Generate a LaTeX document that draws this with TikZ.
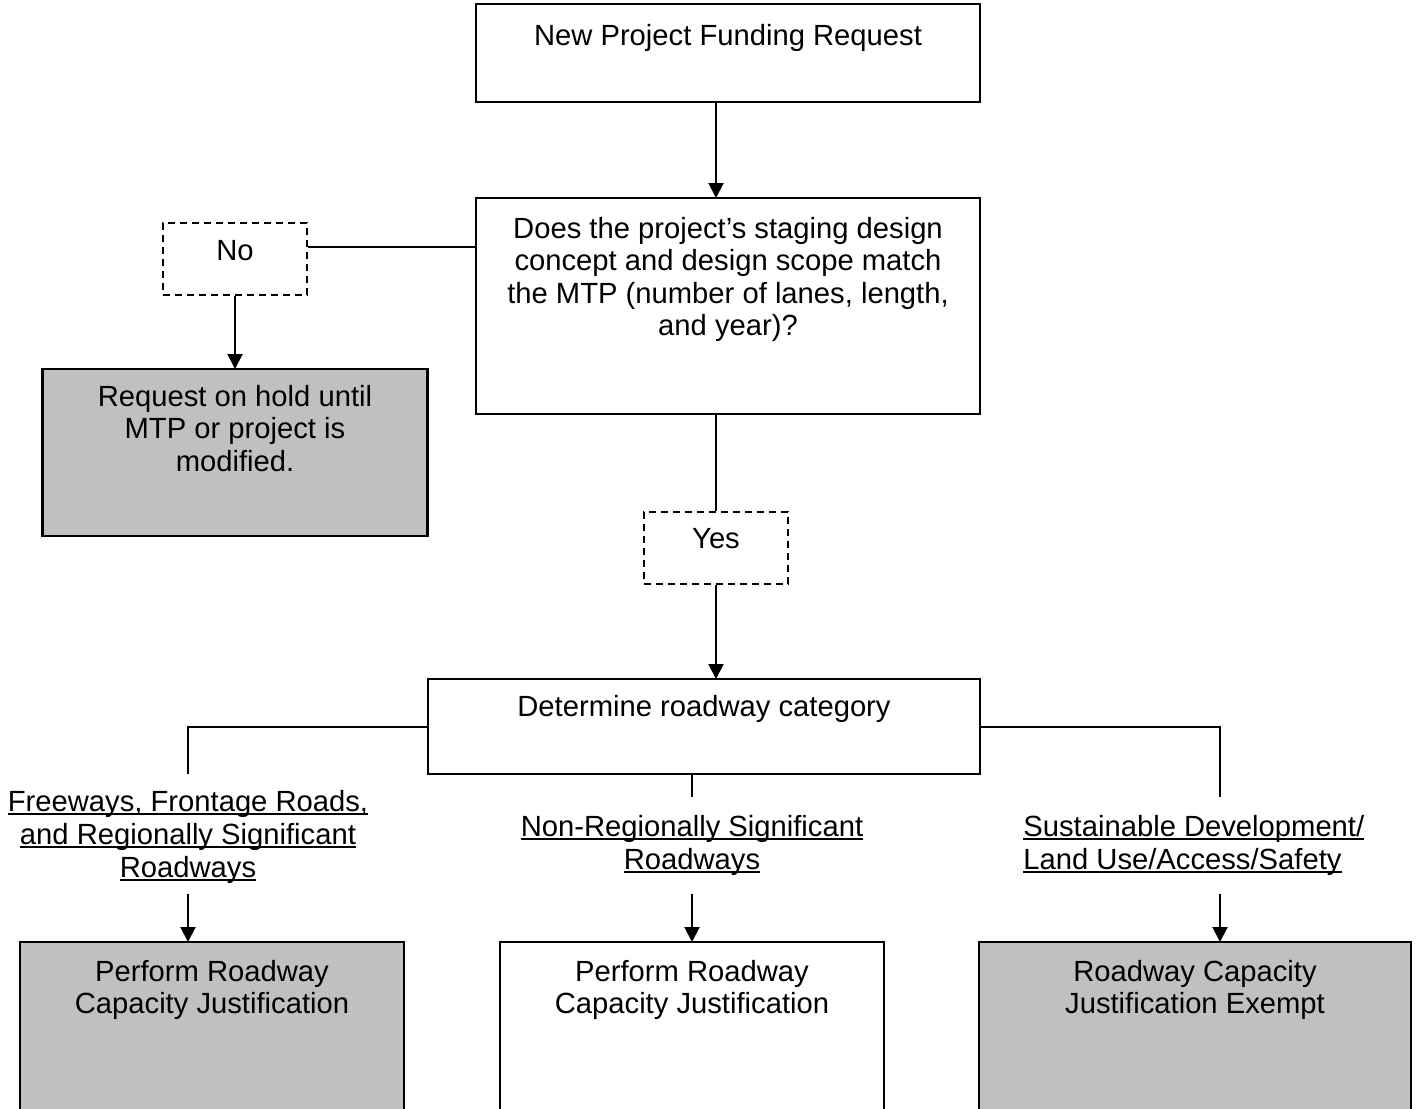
\documentclass[tikz,border=0pt]{standalone}
\usepackage{fontspec}
\setmainfont{Liberation Sans}
\usepackage{tikz}
\usetikzlibrary{arrows.meta, positioning}

\definecolor{holdgray}{RGB}{192,192,192}
\newcommand{\flowfont}{\fontsize{14.6pt}{16.2pt}\selectfont}
\newcommand{\catfont}{\fontsize{14.6pt}{16.6pt}\selectfont}
\newsavebox\ulsave
\newcommand{\ulroad}[1]{\sbox\ulsave{#1}\rlap{\rule[-1.5pt]{\wd\ulsave}{1pt}}\usebox\ulsave}

\begin{document}
\begin{tikzpicture}[
  box/.style={draw, line width=1.1pt, inner sep=0pt, outer sep=0pt},
  choice/.style={draw, dash pattern=on 3.5pt off 2.5pt, line width=1pt,
                 minimum width=72pt, minimum height=36pt, inner sep=0pt},
  intext/.style={anchor=north, inner sep=0pt, align=center, yshift=-#1, font=\flowfont},
  intext/.default=10pt,
  catlabel/.style={inner sep=0pt, align=center, font=\catfont},
  link/.style={line width=1pt},
  arrow/.style={line width=1pt, -{Triangle[length=7.5pt,width=7.5pt]}}
]
  \useasboundingbox (0,0) rectangle (709pt,-554pt);
  \clip (0,0) rectangle (709pt,-554pt);

  % request and MTP check
  \node[box, minimum width=252pt, minimum height=49pt,
        label={[intext=10pt]north:{New Project Funding Request}}] (req) at (364pt,-26.5pt) {};
  \node[box, minimum width=252pt, minimum height=108pt, below=48pt of req,
        label={[intext=9.5pt]north:{Does the project’s staging design\\concept and design scope match\\the MTP (number of lanes, length,\\and year)?}}] (mtp) {};

  % no branch
  \node[choice, below left=12pt and 84pt of mtp.north west,
        label={[intext=9pt]north:No}] (no) {};
  \node[box, fill=holdgray, minimum width=192.5pt, minimum height=83.5pt, below=36.5pt of no,
        label={[intext=8pt]north:{Request on hold until\\MTP or project is\\modified.}}] (hold) {};

  % yes branch
  \node[choice, below=48.5pt of mtp, xshift=-6pt,
        label={[intext=8.5pt]north:Yes}] (yes) {};
  \node[box, minimum width=276pt, minimum height=47.5pt, below=132.5pt of mtp.south east,
        anchor=north east, label={[intext=8pt]north:{Determine roadway category}}] (cat) {};

  % outcomes
  \node[box, minimum width=192pt, minimum height=90pt, below=84pt of cat, xshift=-6pt,
        label={[intext=9pt]north:{Perform Roadway\\Capacity Justification}}] (mbox) {};
  \node[box, fill=holdgray, minimum width=192pt, minimum height=90pt, left=48pt of mbox,
        label={[intext=9pt]north:{Perform Roadway\\Capacity Justification}}] (lbox) {};
  \node[box, fill=holdgray, minimum width=216pt, minimum height=90pt, right=47.5pt of mbox,
        label={[intext=9pt]north:{Roadway Capacity\\Justification Exempt}}] (rbox) {};

  % category labels
  \node[catlabel, above=76pt of lbox.north, anchor=north, xshift=-12pt] (fwy)
        {\ulroad{Freeways, Frontage Roads,}\\\ulroad{and Regionally Significant}\\\ulroad{Roadways}};
  \node[catlabel, above=63.5pt of mbox.north, anchor=north] (nrs)
        {\ulroad{Non-Regionally Significant}\\\ulroad{Roadways}};
  \node[catlabel, align=left, above right=63.5pt and 22pt of rbox.north west, anchor=north west] (sdl)
        {\ulroad{Sustainable Development/}\\\ulroad{Land Use/Access/Safety}};

  % arrows
  \draw[arrow] (req.south -| yes) -- (mtp.north -| yes);
  \coordinate (nojoin) at ([yshift=6pt]no.east);
  \draw[link] (nojoin) -- (nojoin -| mtp.west);
  \draw[arrow] (no) -- (no |- hold.north);
  \draw[link] (mtp.south -| yes) -- (yes);
  \draw[arrow] (yes) -- (cat.north -| yes);

  \coordinate (catdrop) at ([yshift=-11.5pt]cat.south);
  \coordinate (ltap) at (lbox.north -| fwy);
  \coordinate (rtap) at ([xshift=12.5pt]rbox.north);
  \draw[link] (cat.west) -| (cat.south -| fwy);
  \draw[link] (cat.south -| mbox) -- (catdrop -| mbox);
  \draw[link] (cat.east) -| (catdrop -| rtap);
  \draw[arrow] ([yshift=24pt]ltap) -- (ltap);
  \draw[arrow] ([yshift=24pt]mbox.north) -- (mbox.north);
  \draw[arrow] ([yshift=24pt]rtap) -- (rtap);
\end{tikzpicture}
\end{document}
